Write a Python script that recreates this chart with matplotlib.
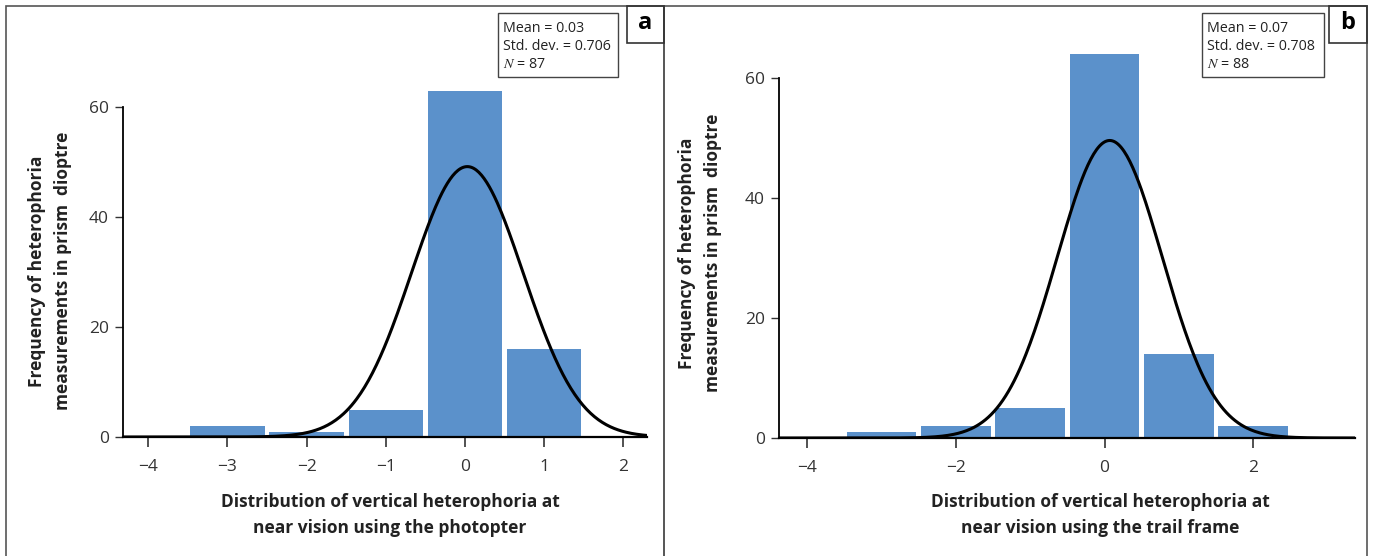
import numpy as np
import matplotlib.pyplot as plt
from matplotlib.patches import Rectangle

# panel a - photopter
bins_a = [-3, -2, -1, 0, 1]
counts_a = [2, 1, 5, 63, 16]
mean_a, sd_a, n_a = 0.03, 0.706, 87
xticks_a = [-4, -3, -2, -1, 0, 1, 2]

# panel b - trail frame
bins_b = [-3, -2, -1, 0, 1, 2]
counts_b = [1, 2, 5, 64, 14, 2]
mean_b, sd_b, n_b = 0.07, 0.708, 88
xticks_b = [-4, -2, 0, 2]

yticks = [0, 20, 40, 60]
BLUE = "#5B91CB"
plt.rcParams['font.family'] = ['Open Sans', 'DejaVu Sans']
plt.rcParams['mathtext.fontset'] = 'stix'

fig = plt.figure(figsize=(13.75, 5.56), dpi=100)
W, H = 1375, 556


def px(x0, y0, x1, y1):
    # pixel box (top-left origin) -> figure rect
    return [x0 / W, 1 - y1 / H, (x1 - x0) / W, (y1 - y0) / H]


def normal_curve(x, mu, sd, n):
    return n * np.exp(-0.5 * ((x - mu) / sd) ** 2) / (sd * np.sqrt(2 * np.pi))


def draw_panel(rect, bins, counts, mu, sd, n, xticks, xlim, ylim):
    ax = fig.add_axes(rect)
    ax.bar(bins, counts, width=0.94, color=BLUE, zorder=1)
    xs = np.linspace(xlim[0], xlim[1], 400)
    ax.plot(xs, normal_curve(xs, mu, sd, n), color='black', lw=2.2, zorder=3)
    ax.set_xlim(*xlim)
    ax.set_ylim(*ylim)
    ax.set_xticks(xticks)
    ax.set_xticklabels([str(t).replace('-', '\u2212') for t in xticks])
    ax.set_yticks(yticks)
    for s in ['top', 'right']:
        ax.spines[s].set_visible(False)
    ax.spines['left'].set_bounds(0, 60)
    ax.spines['left'].set_linewidth(1.3)
    ax.spines['bottom'].set_linewidth(1.6)
    ax.spines['bottom'].set_zorder(4)
    ax.tick_params(axis='x', length=7, width=1.2, pad=9, labelsize=12.5, colors='#333333')
    ax.tick_params(axis='y', length=6, width=1.0, pad=4, labelsize=12.5, colors='#333333')
    ax.patch.set_alpha(0)
    return ax


draw_panel(px(123, 79.5, 647, 437), bins_a, counts_a, mean_a, sd_a, n_a,
           xticks_a, (-4.32, 2.30), (0, 65))
draw_panel(px(779, 42, 1355, 438), bins_b, counts_b, mean_b, sd_b, n_b,
           xticks_b, (-4.38, 3.37), (0, 66))

# panel frames
frame = dict(transform=fig.transFigure, fill=False, color='#555555', lw=1.2)
fig.patches.append(Rectangle((6 / W, -0.01), (664 - 6) / W, 1 - 6 / H + 0.01, **frame))
fig.patches.append(Rectangle((664 / W, -0.01), (1367 - 664) / W, 1 - 6 / H + 0.01, **frame))

# panel letters
for x0, x1, lab in [(627, 664, 'a'), (1329, 1367, 'b')]:
    fig.patches.append(Rectangle((x0 / W, 1 - 43 / H), (x1 - x0) / W, 37 / H,
                                 transform=fig.transFigure, fill=False,
                                 color='#333333', lw=1.2))
    fig.text((x0 + x1) / 2 / W, 1 - 23 / H, lab, ha='center', va='center',
             fontsize=17, fontweight='bold')

# stats boxes
for x0, x1, mu, sd, n in [(498, 618, mean_a, sd_a, n_a), (1202, 1324, mean_b, sd_b, n_b)]:
    fig.patches.append(Rectangle((x0 / W, 1 - 77 / H), (x1 - x0) / W, 64 / H,
                                 transform=fig.transFigure, fill=False,
                                 color='#444444', lw=1.0))
    lines = [f'Mean = {mu:.2f}', f'Std. dev. = {sd:.3f}', f'$N$ = {n}']
    for i, t in enumerate(lines):
        fig.text((x0 + 5) / W, 1 - (29 + i * 18) / H, t, ha='left', va='center',
                 fontsize=10.3, color='#222222')

# axis labels
ylab = ['Frequency of heterophoria', 'measurements in prism  dioptre']
for xc, yc in [(37, 271), (687, 253)]:
    fig.text(xc / W, 1 - yc / H, ylab[0], rotation=90, ha='center', va='center',
             fontsize=12.5, fontweight='bold', color='#222222')
    fig.text((xc + 26) / W, 1 - yc / H, ylab[1], rotation=90, ha='center', va='center',
             fontsize=12.5, fontweight='bold', color='#222222')

xlab_a = ['Distribution of vertical heterophoria at', 'near vision using the photopter']
xlab_b = ['Distribution of vertical heterophoria at', 'near vision using the trail frame']
for xc, lab in [(390, xlab_a), (1100, xlab_b)]:
    for i, t in enumerate(lab):
        fig.text(xc / W, 1 - (502 + i * 26) / H, t, ha='center', va='center',
                 fontsize=12.5, fontweight='bold', color='#222222')

fig.savefig('out.png', dpi=100)
